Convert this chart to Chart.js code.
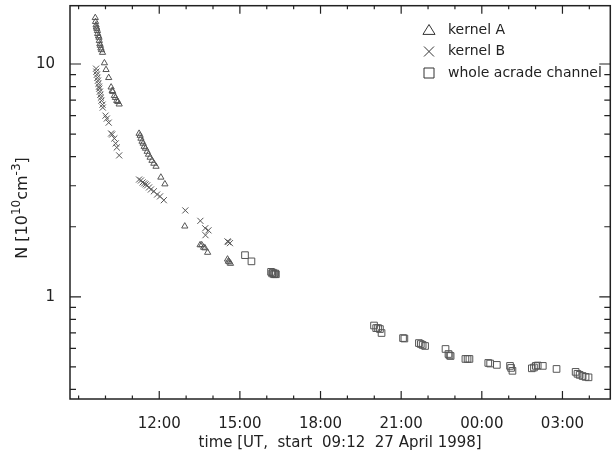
<!DOCTYPE html>
<html>
<head>
<meta charset="utf-8">
<script src="https://cdn.jsdelivr.net/npm/chart.js@4/dist/chart.umd.min.js"></script>
<style>
  html, body { margin: 0; padding: 0; background: #fff; }
</style>
</head>
<body>
<canvas id="chart" width="616" height="459"></canvas>
<script>
// time in hours since 00:00 UT 27 April 1998 (values > 24 are on 28 April)
const kernelAHours = [9.62, 9.63, 9.65, 9.66, 9.68, 9.70, 9.71, 9.74, 9.76, 9.77, 9.79, 9.81, 9.83, 9.85, 9.89, 9.96, 10.02, 10.12, 10.21, 10.25, 10.27, 10.33, 10.37, 10.42, 10.46, 10.51,
  11.25, 11.29, 11.32, 11.36, 11.40, 11.44, 11.49, 11.55, 11.60, 11.66, 11.73, 11.80, 11.88, 12.06, 12.21,
  12.95, 13.52, 13.58, 13.65, 13.70, 13.80, 14.54, 14.57, 14.61, 14.65];
const kernelAN = [15.8, 15.2, 14.7, 14.4, 14.2, 13.9, 13.5, 13.2, 13.0, 12.6, 12.2, 12.0, 11.7, 11.5, 11.2, 10.1, 9.45, 8.73, 7.95, 7.68, 7.61, 7.31, 7.17, 6.96, 6.89, 6.72,
  5.03, 4.93, 4.79, 4.65, 4.56, 4.42, 4.34, 4.21, 4.09, 3.97, 3.85, 3.74, 3.63, 3.26, 3.05,
  2.01, 1.67, 1.67, 1.63, 1.62, 1.55, 1.45, 1.42, 1.41, 1.39];

const kernelBHours = [9.65, 9.66, 9.68, 9.70, 9.72, 9.74, 9.76, 9.77, 9.79, 9.81, 9.83, 9.85, 9.89, 9.90, 10.00, 10.05, 10.12, 10.21, 10.25, 10.33, 10.38, 10.42, 10.51,
  11.25, 11.32, 11.38, 11.44, 11.49, 11.55, 11.62, 11.69, 11.80, 11.92, 12.03, 12.17,
  12.97, 13.53, 13.71, 13.83, 13.72, 14.54, 14.57, 14.63];
const kernelBN = [9.55, 9.27, 9.00, 8.73, 8.48, 8.23, 7.99, 7.84, 7.61, 7.38, 7.17, 6.96, 6.69, 6.50, 6.00, 5.83, 5.60, 5.03, 4.98, 4.79, 4.56, 4.38, 4.05,
  3.19, 3.16, 3.10, 3.07, 3.04, 3.01, 2.95, 2.89, 2.84, 2.75, 2.70, 2.60,
  2.35, 2.12, 1.97, 1.93, 1.84, 1.73, 1.72, 1.70];

const channelHours = [15.19, 15.43, 16.16, 16.20, 16.23, 16.27, 16.31, 16.34,
  19.99, 20.07, 20.14, 20.21, 20.27, 21.07, 21.12, 21.66, 21.73, 21.80, 21.89,
  22.65, 22.76, 22.80, 22.84, 23.39, 23.47, 23.54, 24.24, 24.31, 24.56,
  25.05, 25.09, 25.14, 25.86, 25.94, 26.01, 26.08, 26.27, 26.78,
  27.49, 27.56, 27.64, 27.75, 27.86, 27.97];
const channelN = [1.51, 1.42, 1.28, 1.26, 1.27, 1.25, 1.26, 1.25,
  0.753, 0.734, 0.734, 0.727, 0.699, 0.665, 0.662, 0.633, 0.627, 0.621, 0.615,
  0.597, 0.568, 0.560, 0.557, 0.541, 0.541, 0.541, 0.520, 0.517, 0.510,
  0.505, 0.495, 0.481, 0.493, 0.497, 0.505, 0.507, 0.505, 0.490,
  0.476, 0.467, 0.462, 0.457, 0.453, 0.451];

const labelHours = [12, 15, 18, 21, 24, 27];
const yMajor = [1, 10];
const yMinor = [0.4, 0.5, 0.6, 0.7, 0.8, 0.9, 2, 3, 4, 5, 6, 7, 8, 9];
const legendNames = ['kernel A', 'kernel B', 'whole acrade channel'];

const FONT = 'DejaVu Sans';
const INK = '#222';
const MARK = '#555';

const pts = (xs, ys) => xs.map((x, i) => ({ x: x, y: ys[i] }));

function drawMarker(ctx, kind, x, y, s) {
  ctx.beginPath();
  if (kind === 0) {
    ctx.moveTo(x, y - s);
    ctx.lineTo(x + s * 1.1, y + s * 0.8);
    ctx.lineTo(x - s * 1.1, y + s * 0.8);
    ctx.closePath();
  } else if (kind === 1) {
    ctx.moveTo(x - s, y - s); ctx.lineTo(x + s, y + s);
    ctx.moveTo(x + s, y - s); ctx.lineTo(x - s, y + s);
  } else {
    ctx.rect(x - s, y - s, 2 * s, 2 * s);
  }
  ctx.stroke();
}

const frame = {
  id: 'frame',
  afterDraw(chart) {
    const { ctx, chartArea: a, scales: { x, y } } = chart;
    ctx.save();
    ctx.strokeStyle = INK;
    ctx.lineWidth = 1.5;
    ctx.strokeRect(a.left, a.top, a.right - a.left, a.bottom - a.top);

    // inward tick marks, IDL style
    ctx.lineWidth = 1.2;
    ctx.beginPath();
    for (let h = Math.ceil(x.min); h <= x.max; h++) {
      const px = x.getPixelForValue(h);
      const len = labelHours.includes(h) ? 8 : 3.5;
      ctx.moveTo(px, a.bottom); ctx.lineTo(px, a.bottom - len);
      ctx.moveTo(px, a.top); ctx.lineTo(px, a.top + len);
    }
    yMajor.concat(yMinor).forEach(v => {
      if (v < y.min || v > y.max) return;
      const py = y.getPixelForValue(v);
      const len = yMajor.includes(v) ? 11 : 6;
      ctx.moveTo(a.left, py); ctx.lineTo(a.left + len, py);
      ctx.moveTo(a.right, py); ctx.lineTo(a.right - len, py);
    });
    ctx.stroke();

    // y axis title with superscripts
    ctx.fillStyle = INK;
    ctx.translate(27, 208);
    ctx.rotate(-Math.PI / 2);
    const parts = [['N [10', false], ['10', true], ['cm', false], ['-3', true], [']', false]];
    const big = '16px "' + FONT + '"', small = '12px "' + FONT + '"';
    let w = 0;
    parts.forEach(p => { ctx.font = p[1] ? small : big; w += ctx.measureText(p[0]).width; });
    let cx = -w / 2;
    ctx.textBaseline = 'alphabetic';
    parts.forEach(p => {
      ctx.font = p[1] ? small : big;
      ctx.fillText(p[0], cx, p[1] ? -7 : 0);
      cx += ctx.measureText(p[0]).width;
    });
    ctx.restore();

    // legend
    ctx.save();
    ctx.strokeStyle = '#333';
    ctx.lineWidth = 1;
    ctx.fillStyle = INK;
    ctx.font = '14px "' + FONT + '"';
    ctx.textBaseline = 'middle';
    legendNames.forEach((name, i) => {
      const ly = 30 + i * 21.5;
      drawMarker(ctx, i, 429, ly, i === 0 ? 5.5 : 5);
      ctx.fillText(name, 448, ly);
    });
    ctx.restore();
  }
};

new Chart(document.getElementById('chart').getContext('2d'), {
  type: 'scatter',
  data: {
    datasets: [
      { label: legendNames[0], data: pts(kernelAHours, kernelAN), pointStyle: 'triangle', pointRadius: 3.6 },
      { label: legendNames[1], data: pts(kernelBHours, kernelBN), pointStyle: 'crossRot', pointRadius: 4.3 },
      { label: legendNames[2], data: pts(channelHours, channelN), pointStyle: 'rect', pointRadius: 4.7 }
    ].map(d => Object.assign(d, {
      borderColor: MARK,
      backgroundColor: 'rgba(0,0,0,0)',
      pointBorderWidth: 1,
      pointHoverRadius: d.pointRadius
    }))
  },
  options: {
    responsive: false,
    animation: false,
    devicePixelRatio: 1,
    layout: { padding: { top: 5, right: 1, left: 0, bottom: 0 } },
    plugins: { legend: { display: false }, tooltip: { enabled: false } },
    scales: {
      x: {
        type: 'linear',
        min: 8.68,
        max: 28.78,
        grid: { display: false },
        border: { display: false },
        afterBuildTicks: s => { s.ticks = labelHours.map(v => ({ value: v })); },
        afterFit: s => { s.height = 60; s.paddingLeft = 0; s.paddingRight = 0; },
        ticks: {
          autoSkip: false,
          maxRotation: 0,
          padding: 8,
          color: INK,
          font: { family: FONT, size: 15 },
          callback: v => String(v % 24).padStart(2, '0') + ':00'
        },
        title: {
          display: true,
          text: 'time [UT,  start  09:12  27 April 1998]',
          color: INK,
          font: { family: FONT, size: 15 },
          padding: { top: 0, bottom: 7 }
        }
      },
      y: {
        type: 'logarithmic',
        min: 0.364,
        max: 17.8,
        grid: { display: false },
        border: { display: false },
        afterBuildTicks: s => { s.ticks = yMajor.map(v => ({ value: v })); },
        afterFit: s => { s.width = 70; s.paddingTop = 0; s.paddingBottom = 0; },
        ticks: {
          padding: 7,
          color: INK,
          font: { family: FONT, size: 15 },
          callback: v => String(v)
        }
      }
    }
  },
  plugins: [frame]
});
</script>
</body>
</html>
